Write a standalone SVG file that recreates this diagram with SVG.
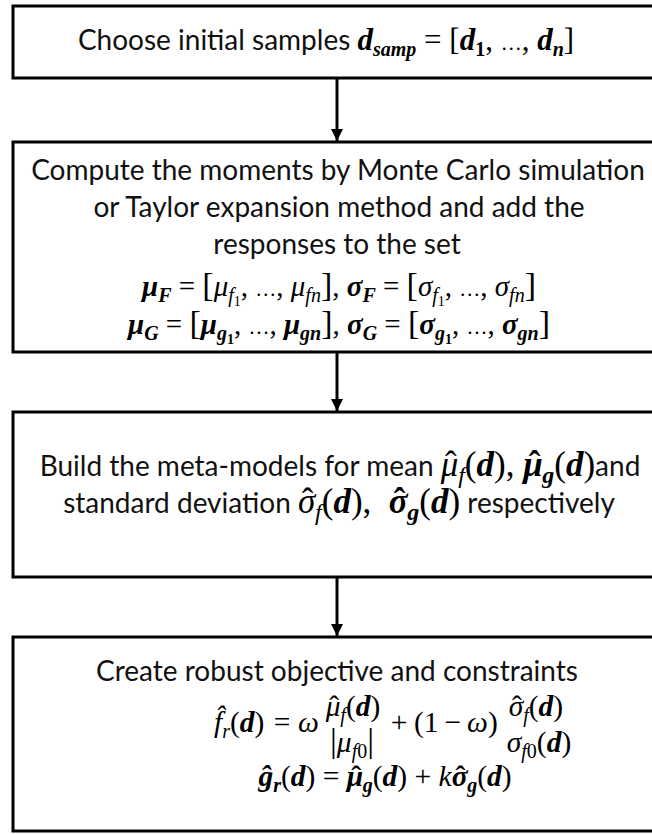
<svg xmlns="http://www.w3.org/2000/svg" width="652" height="834" viewBox="0 0 652 834">
<defs>
<style>
.box{fill:#fff;stroke:#000;stroke-width:3}
.t{font-family:Lato,"Liberation Sans",sans-serif;font-size:28px;fill:#111}
.m{font-family:"Liberation Serif","DejaVu Serif",serif;font-size:31px;fill:#000}
.m2{font-size:29px}
.m4{font-size:29.5px}
.m3{font-family:"Liberation Serif","DejaVu Serif",serif;font-size:35px;fill:#000}
.b{font-weight:bold}
.i{font-style:italic}
.s{font-size:20px}
.s3{font-size:24px}
.ss{font-size:14px}
.br{font-size:34px}
.el{font-size:21px}
.conn line{stroke:#000;stroke-width:3}
</style>
<marker id="ah" markerUnits="userSpaceOnUse" markerWidth="14" markerHeight="12" refX="12" refY="6" orient="auto">
<path d="M0,0 L12,6 L0,12 Z" fill="#000"/>
</marker>
</defs>
<rect width="652" height="834" fill="#fff"/>
<g id="connectors" class="conn">
<line x1="337" y1="78" x2="337" y2="141" marker-end="url(#ah)"/>
<line x1="337" y1="352" x2="337" y2="411" marker-end="url(#ah)"/>
<line x1="337" y1="577" x2="337" y2="636" marker-end="url(#ah)"/>
</g>
<g id="node1">
<rect class="box" x="13" y="6" width="648" height="72"/>
<text x="326" y="50" text-anchor="middle"><tspan class="t">Choose initial samples </tspan><tspan class="m b i">d</tspan><tspan class="m b i s" dy="6">samp</tspan><tspan class="m" dy="-6"> = [</tspan><tspan class="m b i">d</tspan><tspan class="m b s" dy="6">1</tspan><tspan class="m" dy="-6">, </tspan><tspan class="m el">…</tspan><tspan class="m">, </tspan><tspan class="m b i">d</tspan><tspan class="m b i s" dy="6">n</tspan><tspan class="m" dy="-6">]</tspan></text>
</g>
<g id="node2">
<rect class="box" x="13" y="142" width="648" height="210"/>
<text class="t" x="338" y="180" text-anchor="middle">Compute the moments by Monte Carlo simulation</text>
<text class="t" x="339" y="217" text-anchor="middle">or Taylor expansion method and add the</text>
<text class="t" x="337" y="254" text-anchor="middle">responses to the set</text>
<text class="m m2" x="339" y="296" text-anchor="middle"><tspan class="b i">μ</tspan><tspan class="b i s" dy="6">F</tspan><tspan dy="-6"> = </tspan><tspan class="br">[</tspan><tspan class="i">μ</tspan><tspan class="i s" dy="6">f</tspan><tspan class="ss" dy="4">1</tspan><tspan dy="-10">, </tspan><tspan class="el">…</tspan><tspan>, </tspan><tspan class="i">μ</tspan><tspan class="i s" dy="6">fn</tspan><tspan class="br" dy="-6">]</tspan><tspan>, </tspan><tspan class="b i">σ</tspan><tspan class="b i s" dy="6">F</tspan><tspan dy="-6"> = </tspan><tspan class="br">[</tspan><tspan class="i">σ</tspan><tspan class="i s" dy="6">f</tspan><tspan class="ss" dy="4">1</tspan><tspan dy="-10">, </tspan><tspan class="el">…</tspan><tspan>, </tspan><tspan class="i">σ</tspan><tspan class="i s" dy="6">fn</tspan><tspan class="br" dy="-6">]</tspan></text>
<text class="m m2" x="339" y="334" text-anchor="middle"><tspan class="b i">μ</tspan><tspan class="b i s" dy="6">G</tspan><tspan dy="-6"> = </tspan><tspan class="br">[</tspan><tspan class="b i">μ</tspan><tspan class="b i s" dy="6">g</tspan><tspan class="b ss" dy="4">1</tspan><tspan dy="-10">, </tspan><tspan class="el">…</tspan><tspan>, </tspan><tspan class="b i">μ</tspan><tspan class="b i s" dy="6">gn</tspan><tspan class="br" dy="-6">]</tspan><tspan>, </tspan><tspan class="b i">σ</tspan><tspan class="b i s" dy="6">G</tspan><tspan dy="-6"> = </tspan><tspan class="br">[</tspan><tspan class="b i">σ</tspan><tspan class="b i s" dy="6">g</tspan><tspan class="b ss" dy="4">1</tspan><tspan dy="-10">, </tspan><tspan class="el">…</tspan><tspan>, </tspan><tspan class="b i">σ</tspan><tspan class="b i s" dy="6">gn</tspan><tspan class="br" dy="-6">]</tspan></text>
</g>
<g id="node3">
<rect class="box" x="13" y="412" width="648" height="165"/>
<text x="340" y="476" text-anchor="middle"><tspan class="t">Build the meta-models for mean </tspan><tspan class="m3 i">μ</tspan><tspan class="m3" dx="-13.4">ˆ</tspan><tspan class="m3 i s3" dx="1.6" dy="7">f</tspan><tspan class="m3" dy="-7">(</tspan><tspan class="m3 b i">d</tspan><tspan class="m3">), </tspan><tspan class="m3 b i">μ</tspan><tspan class="m3 b" dx="-14">ˆ</tspan><tspan class="m3 b i s3" dx="2" dy="7">g</tspan><tspan class="m3" dy="-7">(</tspan><tspan class="m3 b i">d</tspan><tspan class="m3">)</tspan><tspan class="t">and</tspan></text>
<text x="339" y="513" text-anchor="middle"><tspan class="t">standard deviation </tspan><tspan class="m3 i">σ</tspan><tspan class="m3" dx="-13.4">ˆ</tspan><tspan class="m3 i s3" dx="1.6" dy="7">f</tspan><tspan class="m3" dy="-7">(</tspan><tspan class="m3 b i">d</tspan><tspan class="m3">),&#160; </tspan><tspan class="m3 b i">σ</tspan><tspan class="m3 b" dx="-14">ˆ</tspan><tspan class="m3 b i s3" dx="2" dy="7">g</tspan><tspan class="m3" dy="-7">(</tspan><tspan class="m3 b i">d</tspan><tspan class="m3">)</tspan><tspan class="t"> respectively</tspan></text>
</g>
<g id="node4">
<rect class="box" x="13" y="637" width="648" height="194"/>
<text class="t" x="337" y="681" text-anchor="middle">Create robust objective and constraints</text>
<text class="m m4" x="214" y="732"><tspan class="i">f̂</tspan><tspan class="i s" dy="6">r</tspan><tspan dy="-6">(</tspan><tspan class="b i">d</tspan><tspan>)</tspan></text>
<text class="m m4" x="282" y="732" text-anchor="middle">=</text>
<text class="m m4 i" x="298" y="732">ω</text>
<text class="m m4" x="353" y="716" text-anchor="middle"><tspan class="i">μ</tspan><tspan dx="-11.3">ˆ</tspan><tspan class="i s" dx="1.3" dy="6">f</tspan><tspan dy="-6">(</tspan><tspan class="b i">d</tspan><tspan>)</tspan></text>
<text class="m m4" x="352" y="752" text-anchor="middle"><tspan class="br">|</tspan><tspan class="i">μ</tspan><tspan class="i s" dy="6">f</tspan><tspan class="s">0</tspan><tspan class="br" dy="-6">|</tspan></text>
<text class="m m4" x="399" y="732" text-anchor="middle">+</text>
<text class="m m4" x="414" y="732">(1&#8201;−&#8201;<tspan class="i">ω</tspan>)</text>
<text class="m m4" x="536" y="716" text-anchor="middle"><tspan class="i">σ</tspan><tspan dx="-11.3">ˆ</tspan><tspan class="i s" dx="1.3" dy="6">f</tspan><tspan dy="-6">(</tspan><tspan class="b i">d</tspan><tspan>)</tspan></text>
<text class="m m4" x="539" y="752" text-anchor="middle"><tspan class="i">σ</tspan><tspan class="i s" dy="6">f</tspan><tspan class="s">0</tspan><tspan dy="-6">(</tspan><tspan class="b i">d</tspan><tspan>)</tspan></text>
<text class="m m4" x="385" y="786" text-anchor="middle"><tspan class="b i">ĝ</tspan><tspan class="b i s" dy="6">r</tspan><tspan dy="-6">(</tspan><tspan class="b i">d</tspan><tspan>) = </tspan><tspan class="b i">μ</tspan><tspan class="b" dx="-12">ˆ</tspan><tspan class="b i s" dx="1.8" dy="6">g</tspan><tspan dy="-6">(</tspan><tspan class="b i">d</tspan><tspan>) + </tspan><tspan class="i">k</tspan><tspan class="b i">σ</tspan><tspan class="b" dx="-12">ˆ</tspan><tspan class="b i s" dx="1.8" dy="6">g</tspan><tspan dy="-6">(</tspan><tspan class="b i">d</tspan><tspan>)</tspan></text>
</g>
</svg>
